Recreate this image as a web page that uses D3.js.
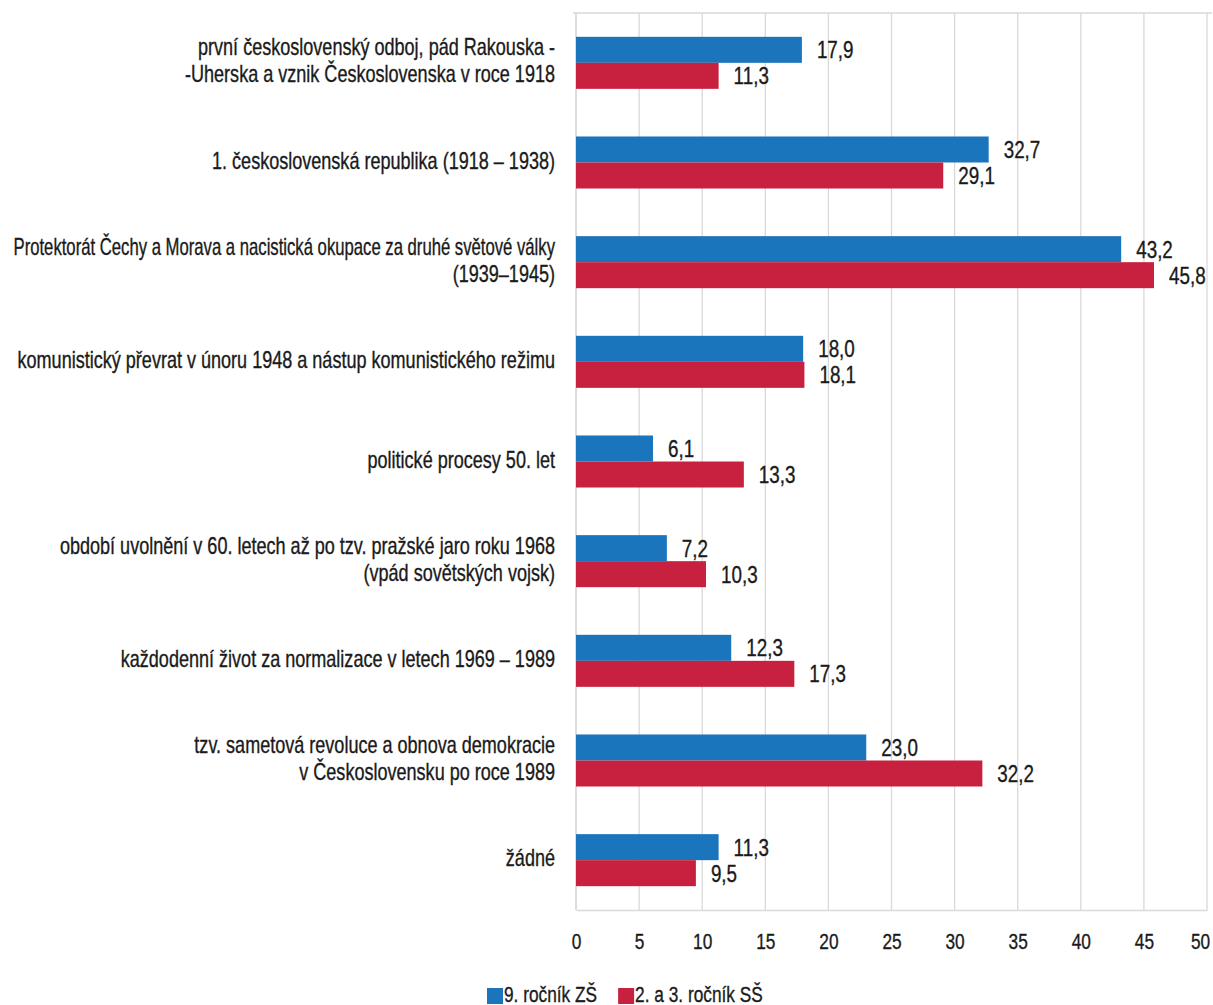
<!DOCTYPE html>
<html>
<head>
<meta charset="utf-8">
<script src="https://cdn.jsdelivr.net/npm/d3@7"></script>
<style>
  body { margin: 0; background: #fff; }
  svg { display: block; font-family: "Liberation Sans", Arial, sans-serif; }
  text { fill: #1a1a1a; stroke: #1a1a1a; stroke-width: 0.35px; }
</style>
</head>
<body>
<svg width="1213" height="1005"></svg>
<script>
// categories, each as its printed lines
let categories = [
  ["první československý  odboj, pád Rakouska -", "-Uherska a vznik Československa  v roce 1918"],
  ["1. československá  republika (1918 – 1938)"],
  ["Protektorát Čechy a Morava a nacistická okupace za druhé světové války", "(1939–1945)"],
  ["komunistický převrat v únoru 1948 a nástup komunistického režimu"],
  ["politické procesy 50. let"],
  ["období uvolnění v 60. letech až po tzv. pražské  jaro roku 1968", "(vpád sovětských vojsk)"],
  ["každodenní život za normalizace v letech  1969 – 1989"],
  ["tzv. sametová revoluce a obnova demokracie", "v Československu  po roce 1989"],
  ["žádné"]
];

let seriesNames = ["9. ročník ZŠ", "2. a 3. ročník SŠ"];
let zsValues = [17.9, 32.7, 43.2, 18.0, 6.1, 7.2, 12.3, 23.0, 11.3];
let ssValues = [11.3, 29.1, 45.8, 18.1, 13.3, 10.3, 17.3, 32.2, 9.5];
let xTicks = [0, 5, 10, 15, 20, 25, 30, 35, 40, 45, 50];

let colors = ["#1b75bc", "#c8213f"];

let svg = d3.select("svg");
let padding = {t: 13, l: 576};
let chartWidth = 1207 - padding.l;
let chartHeight = 910 - padding.t;
let fontSize = 23;
let maxLabelW = 542;

let fmt = v => d3.format(".1f")(v).replace(".", ",");

// no condensed face installed: squeeze text horizontally instead
function textLen(str, size) {
  let p = svg.append("text").attr("font-size", size).text(str);
  let w = p.node().getComputedTextLength();
  p.remove();
  return w;
}
let sx = 538 / textLen(categories[3][0], fontSize);

let x = d3.scaleLinear().domain([0, 50]).range([0, chartWidth]);
let y = d3.scaleBand()
  .domain(d3.range(categories.length))
  .range([0, chartHeight])
  .paddingInner(0.478)
  .paddingOuter(0.239);
let ySub = d3.scaleBand().domain([0, 1]).range([0, y.bandwidth()]);

let chartG = svg.append("g")
  .attr("transform", "translate(" + padding.l + "," + padding.t + ")");

// gridlines
chartG.append("g")
  .selectAll("line")
  .data(xTicks)
  .join("line")
    .attr("x1", d => x(d))
    .attr("x2", d => x(d))
    .attr("y1", 0)
    .attr("y2", chartHeight)
    .attr("stroke", "#d9d9d9")
    .attr("stroke-width", 1.3);

// top frame line
chartG.append("line")
  .attr("x1", -3).attr("x2", x(50) + 5)
  .attr("y1", 0).attr("y2", 0)
  .attr("stroke", "#d9d9d9").attr("stroke-width", 1.3);

// x axis
let xAxis = chartG.append("g")
  .attr("transform", "translate(0," + chartHeight + ")")
  .call(d3.axisBottom(x).tickValues(xTicks).tickSize(0).tickPadding(23).tickFormat(d3.format("d")));
xAxis.select(".domain").attr("stroke", "#d9d9d9").attr("stroke-width", 1.3);
xAxis.selectAll("text")
  .attr("font-size", 22)
  .style("font-family", "inherit")
  .attr("fill", "#1a1a1a")
  .attr("transform", d => (d === 50 ? "translate(-7,0) " : "") + "scale(" + sx + ",1)");

// left axis line
chartG.append("line")
  .attr("x1", 0).attr("x2", 0)
  .attr("y1", 0).attr("y2", chartHeight)
  .attr("stroke", "#d9d9d9").attr("stroke-width", 1.3);

// bars
let rows = categories.map((c, i) => ({i: i, vals: [zsValues[i], ssValues[i]]}));

let groups = chartG.selectAll(".grp")
  .data(rows)
  .join("g")
    .attr("class", "grp")
    .attr("transform", d => "translate(0," + y(d.i) + ")");

groups.selectAll("rect")
  .data(d => d.vals)
  .join("rect")
    .attr("x", 0)
    .attr("y", (d, j) => ySub(j))
    .attr("width", d => x(d))
    .attr("height", ySub.bandwidth())
    .attr("fill", (d, j) => colors[j]);

groups.selectAll(".val")
  .data(d => d.vals)
  .join("text")
    .attr("class", "val")
    .attr("transform", (d, j) => "translate(" + (x(d) + 15) + "," + (ySub(j) + ySub.bandwidth() / 2 + 2) + ") scale(" + sx + ",1)")
    .attr("dominant-baseline", "middle")
    .attr("font-size", 24)
    .text(d => fmt(d));

// category labels, one text per line
let labelG = chartG.append("g");
categories.forEach((lines, i) => {
  let cy = y(i) + y.bandwidth() / 2;
  let lh = 27;
  lines.forEach((ln, k) => {
    let s = Math.min(sx, maxLabelW / textLen(ln, fontSize));
    labelG.append("text")
      .attr("text-anchor", "end")
      .attr("font-size", fontSize)
      .attr("dominant-baseline", "middle")
      .attr("transform", "translate(-21," + (cy + (k - (lines.length - 1) / 2) * lh) + ") scale(" + s + ",1)")
      .text(ln);
  });
});

// legend
let legendSize = 22;
let legend = svg.append("g").attr("transform", "translate(487, 995)");
let lx = 0;
seriesNames.forEach((name, j) => {
  let item = legend.append("g").attr("transform", "translate(" + lx + ",0)");
  item.append("rect")
    .attr("x", 0).attr("y", -7)
    .attr("width", 16).attr("height", 16)
    .attr("fill", colors[j]);
  item.append("text")
    .attr("transform", "translate(17,1) scale(" + sx + ",1)")
    .attr("dominant-baseline", "middle")
    .attr("font-size", legendSize)
    .text(name);
  lx += 17 + textLen(name, legendSize) * sx + 21;
});
</script>
</body>
</html>
